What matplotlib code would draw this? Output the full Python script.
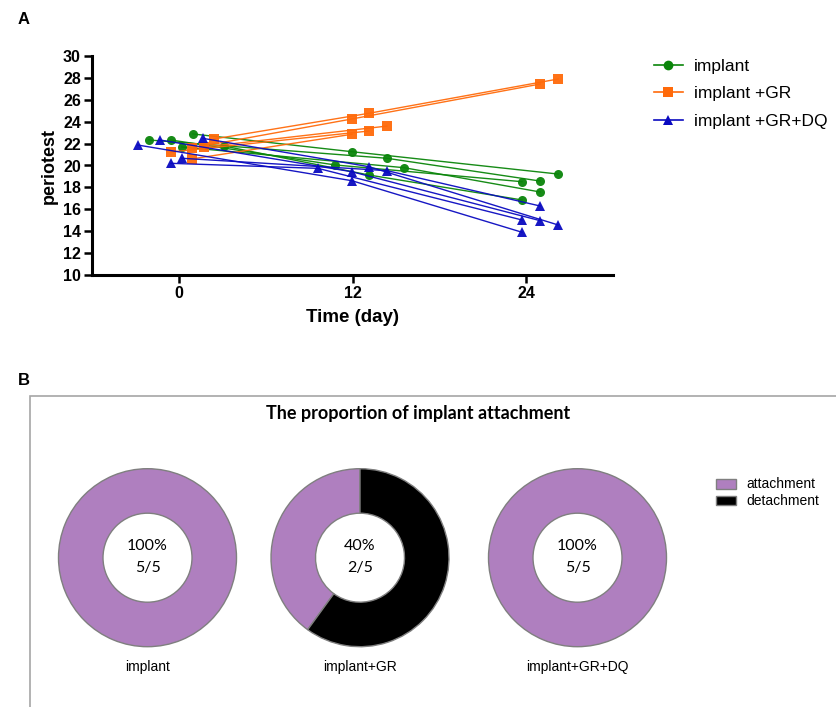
"""
Implant periotest values over time (A) and proportion of implant
attachment per group (B). Saves out.png.
"""

import matplotlib
matplotlib.use("Agg")
import matplotlib.pyplot as plt
from matplotlib.lines import Line2D
from matplotlib.patches import Patch, Rectangle
import numpy as np

W, H = 836, 707  # output size in pixels

# ─────────────────────────────────────────────
# DATA
# ─────────────────────────────────────────────

group_names = ["implant", "implant +GR", "implant +GR+DQ"]

# one row per animal: day 0, day 12, day 24 (x is jittered like the original)
implant_time = [[0.97, 11.96, 26.21],
                [-2.07, 14.38, 24.97],
                [-0.55, 10.79, 23.72],
                [0.21, 15.56, 24.97],
                [3.11, 13.14, 23.72]]
implant_perio = [[22.88, 21.26, 19.22],
                 [22.33, 20.66, 18.58],
                 [22.33, 20.05, 18.52],
                 [21.69, 19.80, 17.58],
                 [21.78, 19.13, 16.85]]

gr_time = [[2.42, 13.14, 26.21],
           [0.90, 11.96, 24.97],
           [1.73, 14.38, np.nan],
           [-0.55, 13.14, np.nan],
           [0.90, 11.96, np.nan]]
gr_perio = [[22.42, 24.77, 27.90],
            [21.60, 24.25, 27.44],
            [21.69, 23.60, np.nan],
            [21.23, 23.15, np.nan],
            [20.60, 22.85, np.nan]]

dq_time = [[-2.84, 11.96, 23.72],
           [-1.31, 11.96, 24.97],
           [1.66, 13.14, 26.21],
           [0.21, 14.38, 24.97],
           [-0.55, 9.61, 23.72]]
dq_perio = [[21.87, 18.61, 13.90],
            [22.33, 19.43, 14.96],
            [22.48, 19.89, 14.57],
            [20.66, 19.53, 16.30],
            [20.20, 19.74, 15.02]]

day_ticks = [0, 12, 24]
perio_ticks = list(range(10, 31, 2))

pie_groups = ["implant", "implant+GR", "implant+GR+DQ"]
attached = [5, 2, 5]
n_total = [5, 5, 5]
pie_categories = ["attachment", "detachment"]


def px_rect(x0, y0, w, h):
    """Pixel box (top-left origin) -> figure fraction rect."""
    return [x0 / W, 1 - (y0 + h) / H, w / W, h / H]


fig = plt.figure(figsize=(W / 100, H / 100), dpi=100)
plt.rcParams["font.family"] = ["Liberation Sans", "DejaVu Sans"]

# ─────────────────────────────────────────────
# PANEL A — periotest lines
# ─────────────────────────────────────────────

ax = fig.add_axes(px_rect(92, 56, 521, 219))

styles = [("#0a850a", "o"), ("#ff6a0a", "s"), ("#0a0ac0", "^")]
series = [(implant_time, implant_perio), (gr_time, gr_perio), (dq_time, dq_perio)]

for (color, marker), (times, perios) in zip(styles, series):
    for t, p in zip(times, perios):
        ax.plot(t, p, color=color, lw=1.0, marker=marker, ms=6.5,
                markeredgewidth=0, alpha=0.95, clip_on=False)

ax.set_xlim(-6, 30)
ax.set_ylim(10, 30)
ax.set_xticks(day_ticks)
ax.set_yticks(perio_ticks)
for side in ("top", "right"):
    ax.spines[side].set_visible(False)
for side in ("left", "bottom"):
    ax.spines[side].set_linewidth(2.2)
ax.tick_params(width=1.8, length=6, labelsize=11.5, pad=2)
for lbl in ax.get_xticklabels() + ax.get_yticklabels():
    lbl.set_fontweight("bold")
ax.set_xlabel("Time (day)", fontsize=13.5, fontweight="bold", labelpad=6)
ax.set_ylabel("periotest", fontsize=13, fontweight="bold", labelpad=4)

handles = [Line2D([], [], color=c, marker=m, ms=7, markeredgewidth=0, lw=1.2)
           for c, m in styles]
fig.legend(handles, group_names, loc="upper left",
           bbox_to_anchor=(638 / W, 1 - 43 / H), frameon=False,
           fontsize=12.5, handlelength=1.7, handletextpad=0.6, labelspacing=0.72)

fig.text(18 / W, 1 - 20 / H, "A", fontsize=12, fontweight="bold", va="center")

# ─────────────────────────────────────────────
# PANEL B — donut charts
# ─────────────────────────────────────────────

fig.text(18 / W, 1 - 381 / H, "B", fontsize=12, fontweight="bold", va="center")
fig.add_artist(Rectangle((30 / W, -0.02), 1.0, (707 - 396) / H + 0.02,
                         transform=fig.transFigure, fill=False,
                         edgecolor="#a6a6a6", linewidth=1.2))
fig.text(418 / W, 1 - 414 / H, "The proportion of implant attachment",
         fontsize=13, fontweight="bold", family=["Lato", "DejaVu Sans"],
         ha="center", va="center")

purple = "#af7fbf"
centers = [147.5, 360, 577.5]
size = 222.5  # pie radius 1 = 89 px, pie() uses limits of +-1.25

for cx, name, a, n in zip(centers, pie_groups, attached, n_total):
    pax = fig.add_axes(px_rect(cx - size / 2, 557.7 - size / 2, size, size))
    vals = [a, n - a]
    cols = [purple, "black"]
    keep = [i for i, v in enumerate(vals) if v > 0]
    pax.pie([vals[i] for i in keep], colors=[cols[i] for i in keep],
            startangle=90, counterclock=True, radius=1,
            wedgeprops=dict(width=0.5, edgecolor="#7f7f7f", linewidth=1.0))
    pax.set_aspect("equal")
    pct = 100 * a / n
    pax.text(0, 0.13, f"{pct:.0f}%", ha="center", va="center", fontsize=11.5,
             family=["Lato", "DejaVu Sans"])
    pax.text(0, -0.12, f"{a}/{n}", ha="center", va="center", fontsize=11.5,
             family=["Lato", "DejaVu Sans"])
    pax.text(0, -1.23, name, ha="center", va="center", fontsize=10)

pie_handles = [Patch(facecolor=purple, edgecolor="#7f7f7f"),
               Patch(facecolor="black", edgecolor="#7f7f7f")]
fig.legend(pie_handles, pie_categories, loc="upper left",
           bbox_to_anchor=(703 / W, 1 - 465 / H), frameon=False, fontsize=10,
           handlelength=1.5, handleheight=0.7, handletextpad=0.7,
           labelspacing=0.2)

fig.savefig("out.png", dpi=100)
